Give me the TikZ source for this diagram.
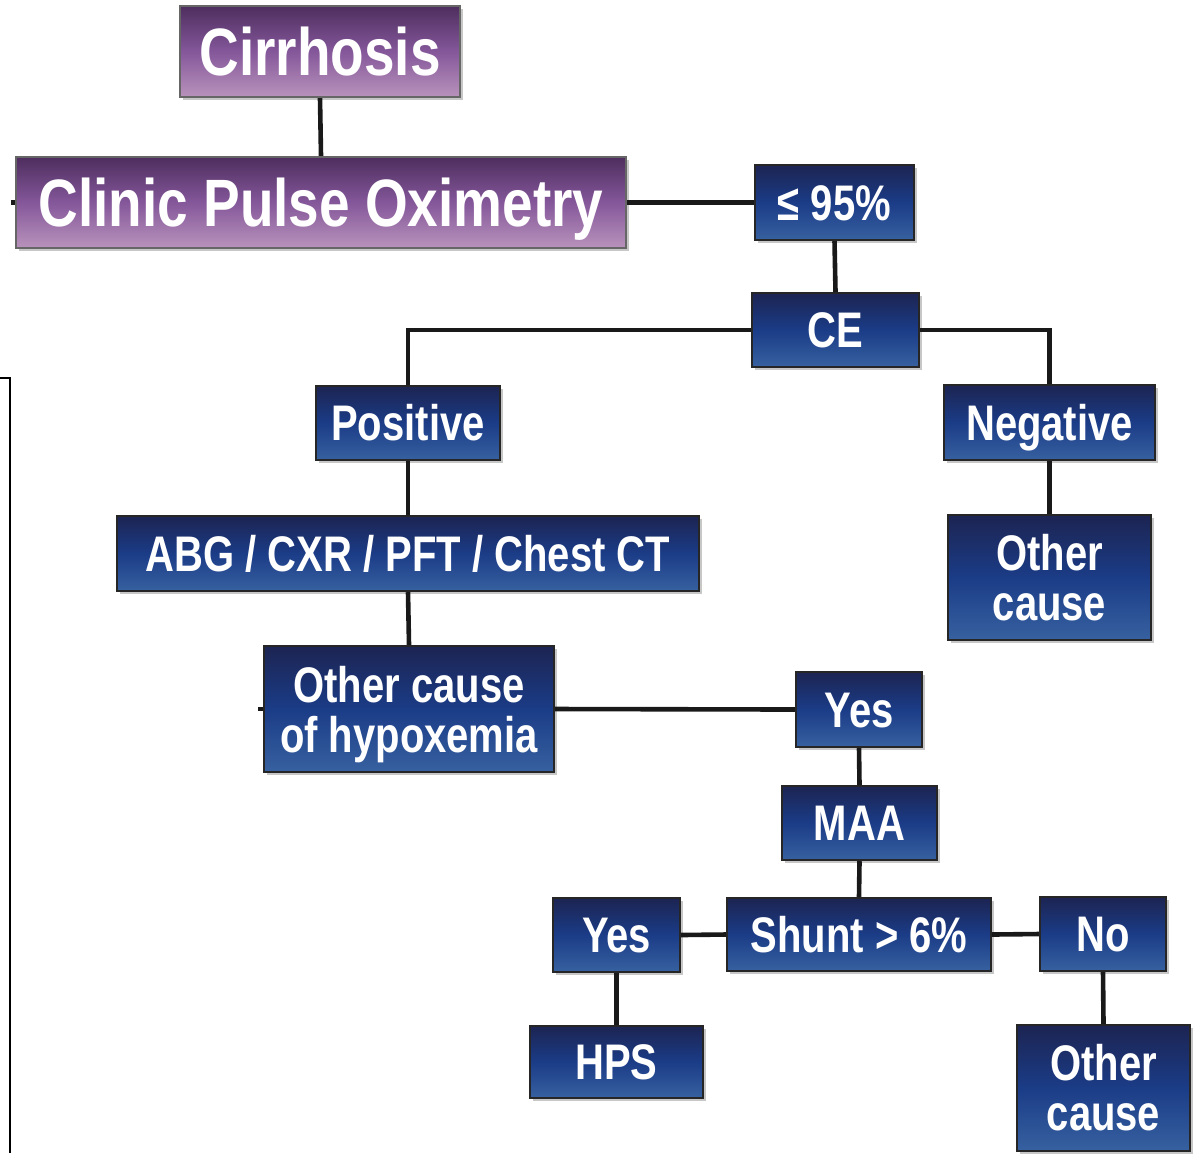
\documentclass[tikz,border=0pt]{standalone}
\usepackage{fontspec}
\usetikzlibrary{shadows}
\newfontfamily\bluefont[FakeStretch=0.80]{Liberation Sans Bold}
\newfontfamily\purfont[FakeStretch=0.82]{Liberation Sans Bold}
\definecolor{bluetop}{HTML}{1C2452}
\definecolor{bluemid}{HTML}{1B3C87}
\definecolor{bluebot}{HTML}{3761A0}
\definecolor{purtop}{HTML}{4E2E5E}
\definecolor{purmid}{HTML}{84579A}
\definecolor{purbot}{HTML}{B993BC}
\tikzset{
  box/.style={draw=black!85, line width=1.2pt, inner sep=0pt, align=center, text=white,
    drop shadow={shadow xshift=1.3pt, shadow yshift=-1.3pt, fill=black!22, opacity=1}},
  bluebox/.style={box, top color=bluetop, bottom color=bluebot, middle color=bluemid,
    font=\bluefont\fontsize{25}{25}\selectfont},
  oneline/.style={text height=17.9pt, text depth=0pt},
  purbox/.style={box, draw=black!60, top color=purtop, bottom color=purbot, middle color=purmid,
    font=\purfont\fontsize{33.5}{30}\selectfont, text height=24pt, text depth=0pt},
  conn/.style={line width=2.3pt, black!90},
  thinline/.style={line width=1pt, black}
}
\begin{document}
\begin{tikzpicture}[x=0.5pt,y=-0.5pt]
\useasboundingbox (0,0) rectangle (1197,1153);
% nodes
\node[purbox, minimum width=140pt, minimum height=45.5pt] (cirr) at (320,51.5) {Cirrhosis};
\node[purbox, minimum width=305pt, minimum height=45.5pt] (cpo) at (321,202.5) {Clinic Pulse Oximetry};
\node[bluebox, oneline, minimum width=79.5pt, minimum height=37.5pt] (le95) at (834.5,202.5) {≤ 95\%};
\node[bluebox, oneline, minimum width=83.5pt, minimum height=37pt] (ce) at (835.5,330) {CE};
\node[bluebox, oneline, minimum width=92pt, minimum height=37pt] (pos) at (408,423) {Positive};
\node[bluebox, oneline, minimum width=105.5pt, minimum height=37.5pt] (neg) at (1049.5,422.5) {Negative};
\node[bluebox, oneline, minimum width=291pt, minimum height=37.5pt] (abg) at (408,553.5) {ABG / CXR / PFT / Chest CT};
\node[bluebox, minimum width=101.5pt, minimum height=62.5pt] (oc1) at (1049.5,577.5) {Other\\cause};
\node[bluebox, minimum width=145pt, minimum height=63pt] (och) at (409,709) {Other cause\\\smash{of hypoxemia}};
\node[bluebox, oneline, minimum width=63pt, minimum height=37.5pt] (yes1) at (859,709.5) {Yes};
\node[bluebox, oneline, minimum width=77.5pt, minimum height=37pt] (maa) at (859.5,823) {MAA};
\node[bluebox, oneline, minimum width=132pt, minimum height=36.5pt] (shunt) at (859,934.5) {Shunt > 6\%};
\node[bluebox, oneline, minimum width=63.5pt, minimum height=37pt] (yes2) at (616.5,935) {Yes};
\node[bluebox, oneline, minimum width=63pt, minimum height=37pt] (no) at (1103,934) {No};
\node[bluebox, oneline, minimum width=86.5pt, minimum height=36pt] (hps) at (616.5,1062) {HPS};
\node[bluebox, minimum width=86.5pt, minimum height=63pt] (oc2) at (1103.5,1088) {Other\\cause};
% connectors
\draw[conn] (cirr.south) -- (cpo.north);
\draw[conn] (cpo.east) -- (le95.west);
\draw[conn] (le95.south) -- (ce.north);
\draw[conn] (ce.west) -| (pos.north);
\draw[conn] (ce.east) -| (neg.north);
\draw[conn] (pos.south) -- (abg.north);
\draw[conn] (neg.south) -- (oc1.north);
\draw[conn] (abg.south) -- (och.north);
\draw[conn] (och.east) -- (yes1.west);
\draw[conn] (yes1.south) -- (maa.north);
\draw[conn] (maa.south) -- (shunt.north);
\draw[conn] (shunt.west) -- (yes2.east);
\draw[conn] (shunt.east) -- (no.west);
\draw[conn] (yes2.south) -- (hps.north);
\draw[conn] (no.south) -- (oc2.north);
% stubs and left line
\coordinate (s1) at (11,202.5);
\coordinate (s2) at (258,709);
\draw[conn] (s1) -- (cpo.west);
\draw[conn] (s2) -- (och.west);
\coordinate (l0) at (0,378);
\coordinate (l1) at (10,378);
\coordinate (l2) at (10,1153);
\draw[thinline] (l0) -- (l1) -- (l2);
\end{tikzpicture}
\end{document}
